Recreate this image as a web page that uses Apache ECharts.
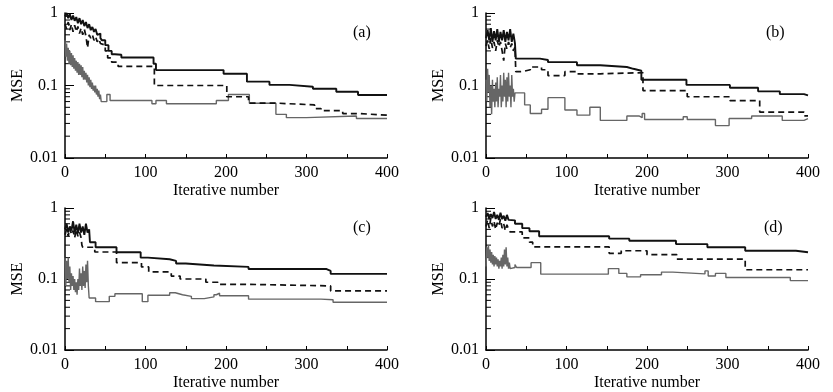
<!DOCTYPE html>
<html><head><meta charset="utf-8">
<script src="https://cdn.jsdelivr.net/npm/echarts@6/dist/echarts.min.js"></script>
<style>html,body{margin:0;padding:0;background:#fff}#c{width:833px;height:392px}</style>
</head><body><div id="c"></div>
<script>
// ---- data: [iteration, MSE] change points (step lines) ----
const solidA=[[0,0.9],[2,1.0],[4,0.85],[6,0.97],[8,0.8],[10,0.92],[12,0.78],[14,0.88],[16,0.72],[18,0.85],[20,0.7],[22,0.8],[24,0.66],[26,0.75],[28,0.62],[30,0.7],[32,0.58],[34,0.64],[36,0.55],[38,0.6],[40,0.5],[42,0.52],[44,0.45],[46,0.42],[50,0.36],[54,0.3],[58,0.27],[62,0.265],[70,0.243],[110,0.2],[113,0.163],[197,0.145],[226,0.113],[254,0.102],[279,0.096],[308,0.09],[337,0.082],[364,0.074],[400,0.074]];
const dashedA=[[0,0.7],[2,0.6],[4,0.75],[6,0.58],[8,0.7],[10,0.55],[12,0.68],[14,0.55],[16,0.65],[18,0.52],[20,0.62],[22,0.5],[24,0.6],[26,0.48],[28,0.33],[30,0.5],[32,0.45],[34,0.5],[36,0.42],[38,0.47],[40,0.4],[42,0.44],[44,0.38],[46,0.36],[50,0.3],[53,0.24],[58,0.21],[66,0.183],[111,0.1],[201,0.07],[228,0.057],[265,0.054],[310,0.048],[318,0.045],[345,0.041],[365,0.039],[400,0.039]];
const grayA=[[0,0.42],[1,0.25],[2,0.38],[3,0.22],[4,0.33],[5,0.2],[6,0.3],[7,0.19],[8,0.28],[9,0.18],[10,0.26],[11,0.17],[12,0.24],[13,0.16],[14,0.22],[15,0.15],[16,0.21],[17,0.14],[18,0.2],[19,0.14],[20,0.19],[21,0.13],[22,0.18],[23,0.12],[24,0.16],[25,0.12],[26,0.15],[27,0.11],[28,0.14],[29,0.1],[30,0.13],[31,0.095],[32,0.12],[33,0.09],[34,0.11],[35,0.085],[36,0.1],[37,0.08],[38,0.1],[39,0.075],[40,0.09],[41,0.07],[42,0.085],[43,0.065],[44,0.075],[45,0.06],[52,0.075],[56,0.062],[108,0.056],[113,0.062],[126,0.056],[188,0.062],[203,0.075],[229,0.057],[262,0.04],[275,0.036],[300,0.038],[362,0.035],[400,0.035]];

const solidB=[[0,0.45],[2,0.58],[4,0.42],[6,0.62],[8,0.4],[10,0.56],[12,0.42],[14,0.6],[16,0.4],[18,0.55],[20,0.42],[22,0.58],[24,0.4],[26,0.55],[28,0.42],[30,0.6],[32,0.4],[34,0.52],[36,0.38],[37,0.235],[67,0.225],[77,0.21],[113,0.19],[142,0.18],[175,0.17],[183,0.16],[193,0.12],[249,0.102],[303,0.093],[338,0.083],[365,0.076],[395,0.073],[400,0.073]];
const dashedB=[[0,0.35],[2,0.42],[4,0.32],[6,0.45],[8,0.33],[10,0.4],[12,0.3],[14,0.42],[16,0.34],[18,0.4],[20,0.3],[22,0.22],[24,0.38],[26,0.32],[28,0.4],[30,0.33],[32,0.38],[34,0.3],[36,0.34],[37,0.155],[45,0.165],[55,0.18],[69,0.165],[77,0.137],[98,0.155],[113,0.145],[142,0.15],[195,0.085],[250,0.07],[303,0.062],[340,0.043],[395,0.038],[400,0.038]];
const grayB=[[0,0.12],[1,0.06],[2,0.17],[3,0.08],[4,0.14],[5,0.05],[6,0.1],[7,0.04],[8,0.12],[9,0.06],[10,0.09],[11,0.05],[12,0.11],[13,0.06],[14,0.13],[15,0.05],[16,0.09],[17,0.07],[18,0.14],[19,0.05],[20,0.1],[21,0.06],[22,0.15],[23,0.07],[24,0.12],[25,0.05],[26,0.13],[27,0.06],[28,0.15],[29,0.07],[30,0.1],[31,0.05],[32,0.14],[33,0.07],[34,0.09],[35,0.06],[36,0.079],[48,0.054],[55,0.041],[69,0.047],[77,0.068],[98,0.046],[113,0.039],[129,0.05],[142,0.033],[175,0.038],[190,0.036],[194,0.041],[197,0.034],[245,0.037],[250,0.034],[285,0.028],[302,0.035],[330,0.038],[368,0.033],[395,0.035],[400,0.035]];

const solidC=[[0,0.5],[2,0.6],[4,0.45],[6,0.55],[8,0.48],[10,0.65],[12,0.45],[14,0.58],[16,0.44],[18,0.6],[20,0.45],[22,0.55],[24,0.42],[26,0.6],[28,0.45],[30,0.5],[31,0.33],[38,0.28],[64,0.238],[94,0.2],[103,0.19],[130,0.18],[138,0.165],[150,0.155],[185,0.148],[228,0.138],[325,0.13],[330,0.118],[400,0.118]];
const dashedC=[[0,0.42],[2,0.5],[4,0.4],[6,0.52],[8,0.42],[10,0.48],[12,0.38],[14,0.5],[16,0.4],[18,0.46],[20,0.38],[21,0.3],[22,0.28],[37,0.24],[64,0.17],[95,0.148],[104,0.126],[132,0.11],[143,0.1],[175,0.09],[190,0.084],[228,0.08],[330,0.068],[400,0.068]];
const grayC=[[0,0.2],[1,0.08],[2,0.18],[3,0.1],[4,0.2],[5,0.09],[6,0.15],[7,0.07],[8,0.12],[9,0.08],[10,0.11],[11,0.07],[12,0.1],[13,0.065],[14,0.09],[15,0.06],[16,0.1],[17,0.07],[18,0.14],[19,0.08],[20,0.12],[21,0.07],[22,0.15],[23,0.08],[24,0.13],[25,0.075],[26,0.16],[27,0.09],[28,0.18],[29,0.08],[30,0.054],[38,0.048],[55,0.057],[62,0.062],[96,0.048],[103,0.059],[130,0.064],[137,0.06],[146,0.057],[157,0.053],[173,0.056],[185,0.06],[188,0.063],[192,0.058],[228,0.052],[318,0.051],[333,0.047],[400,0.047]];

const solidD=[[0,0.75],[2,0.85],[4,0.7],[6,0.82],[8,0.72],[10,0.88],[12,0.7],[14,0.8],[16,0.68],[18,0.86],[20,0.7],[22,0.78],[24,0.66],[26,0.8],[28,0.68],[30,0.67],[36,0.6],[45,0.52],[54,0.47],[66,0.4],[153,0.37],[178,0.345],[236,0.31],[275,0.28],[322,0.25],[385,0.238],[400,0.238]];
const dashedD=[[0,0.55],[2,0.68],[4,0.52],[6,0.72],[8,0.55],[10,0.65],[12,0.5],[14,0.62],[16,0.55],[18,0.7],[20,0.52],[22,0.6],[24,0.48],[26,0.58],[28,0.5],[30,0.46],[45,0.38],[54,0.33],[58,0.283],[153,0.23],[168,0.25],[200,0.22],[237,0.19],[322,0.135],[400,0.135]];
const grayD=[[0,0.15],[1,0.28],[2,0.2],[3,0.3],[4,0.18],[5,0.26],[6,0.17],[7,0.24],[8,0.16],[9,0.22],[10,0.15],[11,0.21],[12,0.16],[13,0.2],[14,0.15],[15,0.19],[16,0.14],[17,0.18],[18,0.15],[19,0.2],[20,0.14],[21,0.22],[22,0.15],[23,0.26],[24,0.16],[25,0.28],[26,0.15],[27,0.2],[28,0.14],[29,0.17],[30,0.14],[31,0.145],[36,0.16],[38,0.145],[56,0.17],[68,0.117],[152,0.14],[165,0.12],[175,0.107],[192,0.115],[218,0.125],[232,0.118],[272,0.13],[276,0.11],[285,0.12],[298,0.105],[378,0.095],[400,0.095]];

const panelLabels=['(a)','(b)','(c)','(d)'];
const xTickLabels=[0,100,200,300,400];
const yTickLabels=[0.01,0.1,1];
const minorTickValues=[0.02,0.03,0.04,0.05,0.06,0.07,0.08,0.09,0.2,0.3,0.4,0.5,0.6,0.7,0.8,0.9];
const panels=[[solidA,dashedA,grayA],[solidB,dashedB,grayB],[solidC,dashedC,grayC],[solidD,dashedD,grayD]];

// ---- layout ----
const FONT='Liberation Serif';
const gridPos=[{left:65,top:13,width:322,height:145},{left:486,top:13,width:322,height:145},{left:65,top:208,width:322,height:145},{left:486,top:208,width:322,height:145}];
const labelPos=[[353,25],[766,25],[353,220],[764,220]];

const grids=[],xAxes=[],yAxes=[],series=[],titles=[];
panels.forEach((p,i)=>{
  grids.push(Object.assign({containLabel:false},gridPos[i]));
  xAxes.push({type:'value',gridIndex:i,min:0,max:400,interval:50,
    name:'Iterative number',nameLocation:'middle',nameGap:25,
    nameTextStyle:{fontFamily:FONT,fontSize:16,color:'#000'},
    axisLine:{show:true,lineStyle:{color:'#000',width:1.5}},
    axisTick:{show:true,inside:true,length:4,lineStyle:{color:'#000',width:1}},
    axisLabel:{fontFamily:FONT,fontSize:16,color:'#000',margin:7,
      formatter:v=>xTickLabels.indexOf(v)>=0?String(v):''},
    splitLine:{show:false}});
  yAxes.push({type:'log',logBase:10,gridIndex:i,min:0.01,max:1,
    name:'MSE',nameLocation:'middle',nameGap:39,
    nameTextStyle:{fontFamily:FONT,fontSize:16,color:'#000'},
    axisLine:{show:true,lineStyle:{color:'#000',width:1.5}},
    axisTick:{show:true,inside:true,length:9,lineStyle:{color:'#000',width:1}},
    axisLabel:{fontFamily:FONT,fontSize:16,color:'#000',margin:7,
      formatter:v=>{const m=yTickLabels.find(t=>Math.abs(t-v)/t<1e-6);return m===undefined?'':String(m);}},
    splitLine:{show:false}});
  const styles=[{color:'#111',width:1.9,type:'solid'},{color:'#111',width:1.7,type:[6,4]},{color:'#666',width:1.4,type:'solid'}];
  p.forEach((d,k)=>{
    series.push({type:'line',xAxisIndex:i,yAxisIndex:i,data:d,step:'end',showSymbol:false,symbol:'none',
      lineStyle:styles[k],z:5-k,silent:true});
  });
  series.push({type:'custom',xAxisIndex:i,yAxisIndex:i,silent:true,clip:false,
    data:minorTickValues.map(v=>[0,v]),
    renderItem:(params,api)=>{const c=api.coord([0,api.value(1)]);
      return {type:'line',shape:{x1:c[0],y1:c[1],x2:c[0]+5,y2:c[1]},style:{stroke:'#000',lineWidth:1}};}});
  titles.push({text:panelLabels[i],left:labelPos[i][0],top:labelPos[i][1],padding:0,
    textStyle:{fontFamily:FONT,fontSize:16,fontWeight:'normal',color:'#000'}});
});

const chart=echarts.init(document.getElementById('c'),null,{renderer:'canvas'});
chart.setOption({animation:false,backgroundColor:'#fff',title:titles,grid:grids,xAxis:xAxes,yAxis:yAxes,series:series});
</script></body></html>
